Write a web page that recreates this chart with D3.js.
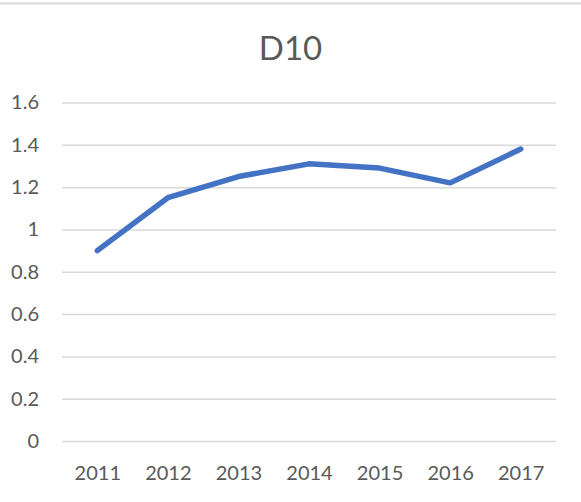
<!DOCTYPE html>
<html><head><meta charset="utf-8">
<script src="https://cdn.jsdelivr.net/npm/d3@7"></script>
<style>body{margin:0;background:#fff;} svg{display:block;}</style>
</head><body>
<script>
const years = ["2011","2012","2013","2014","2015","2016","2017"];
const values = [0.90, 1.15, 1.25, 1.31, 1.29, 1.22, 1.38];
const yTicks = [0, 0.2, 0.4, 0.6, 0.8, 1, 1.2, 1.4, 1.6];
const title = "D10";

const W = 581, H = 502;
const svg = d3.select("body").append("svg").attr("width", W).attr("height", H);
const font = "Lato, 'Open Sans', sans-serif";

svg.append("line").attr("x1",0).attr("x2",W).attr("y1",3.5).attr("y2",3.5)
  .attr("stroke","#d9d9d9").attr("stroke-width",2);

const x = d3.scalePoint().domain(years).range([62, 556]).padding(0.5);
const y = d3.scaleLinear().domain([0, 1.6]).range([441, 102.5]);

svg.append("text").attr("x", 290.5).attr("y", 60).attr("text-anchor","middle")
  .attr("font-family", font).attr("font-size", 33).attr("fill","#595959").text(title);

const ya = d3.axisLeft(y).tickValues(yTicks).tickSize(-(556-62)).tickFormat(d3.format("~g")).tickPadding(23);
const gy = svg.append("g").attr("transform","translate(62,0)").call(ya);
gy.select(".domain").remove();
gy.selectAll(".tick line").attr("stroke","#d9d9d9").attr("stroke-width",1.5);
gy.selectAll(".tick text").attr("font-family",font).attr("font-size",20).attr("fill","#595959");

const xa = d3.axisBottom(x).tickSize(0).tickPadding(25);
const gx = svg.append("g").attr("transform","translate(0,441)").call(xa);
gx.select(".domain").remove();
gx.selectAll(".tick text").attr("font-family",font).attr("font-size",20).attr("fill","#595959");

const line = d3.line().x((d,i)=>x(years[i])).y(d=>y(d));
svg.append("path").datum(values).attr("d", line).attr("fill","none")
  .attr("stroke","#4472c4").attr("stroke-width",5.5).attr("stroke-linecap","round").attr("stroke-linejoin","round");
</script>
</body></html>
